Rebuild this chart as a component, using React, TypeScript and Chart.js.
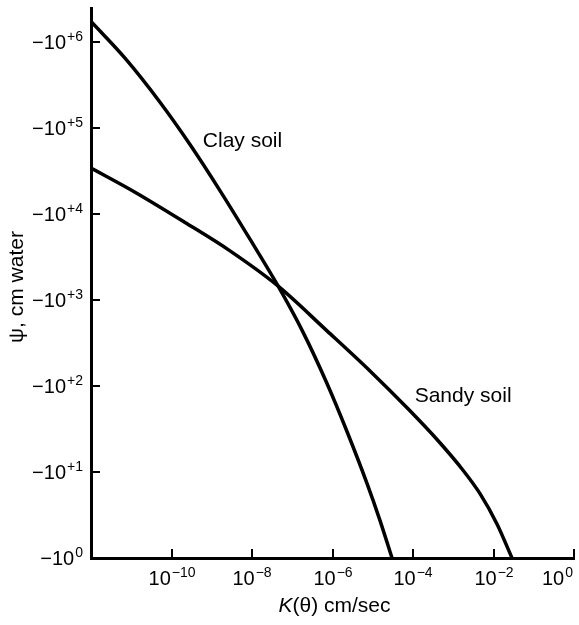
import React, { useEffect, useRef } from 'react';
import { Chart, registerables } from 'chart.js';

Chart.register(...registerables);

// Clay soil curve: hydraulic conductivity K (cm/sec) vs |psi| (cm water)
const clayK = [1e-12, 7.0e-12, 5.18e-11, 2.88e-10, 1.6e-9, 8.91e-9, 4.43e-8, 1.85e-7, 7.3e-7, 2.29e-6, 7.19e-6, 1.51e-5, 3.01e-5];
const clayPsi = [1.74e6, 6.51e5, 2.0e5, 6.45e4, 1.88e4, 5.11e3, 1.46e3, 424, 107, 29.6, 7.38, 2.74, 1];

// Sandy soil curve
const sandyK = [1e-12, 1.24e-11, 2.16e-10, 2.84e-9, 4.18e-8, 7.3e-7, 8.55e-6, 7.52e-5, 3.95e-4, 1.75e-3, 4.62e-3, 1.22e-2, 2.88e-2];
const sandyPsi = [3.44e4, 1.8e4, 8.01e3, 3.74e3, 1.49e3, 439, 150, 54.4, 23.9, 10.5, 5.6, 2.49, 1];

// Axis ticks
const xTickValues = [1e-10, 1e-8, 1e-6, 1e-4, 1e-2, 1e0];
const xTickBase = ['10', '10', '10', '10', '10', '10'];
const xTickSup = ['\u221210', '\u22128', '\u22126', '\u22124', '\u22122', '0'];
const yTickValues = [1e0, 1e1, 1e2, 1e3, 1e4, 1e5, 1e6];
const yTickBase = ['\u221210', '\u221210', '\u221210', '\u221210', '\u221210', '\u221210', '\u221210'];
const yTickSup = ['0', '+1', '+2', '+3', '+4', '+5', '+6'];

// Curve labels
const annotationTexts = ['Clay soil', 'Sandy soil'];
const annotationK = [6.0e-10, 1.1e-4];
const annotationPsi = [6.0e4, 66];

const xTitleItalic = 'K';
const xTitleRest = '(\u03b8) cm/sec';
const yTitle = '\u03c8, cm water';

const FONT = '"Liberation Sans", Arial, Helvetica, sans-serif';

function drawSup(ctx: CanvasRenderingContext2D, base: string, sup: string, x: number, y: number, align: 'center' | 'right', maxRight: number) {
  ctx.font = `20px ${FONT}`;
  const wb = ctx.measureText(base).width;
  ctx.font = `14px ${FONT}`;
  const ws = ctx.measureText(sup).width;
  const total = wb + ws + 1;
  let start = align === 'center' ? x - total / 2 : x - total;
  if (start + total > maxRight) start = maxRight - total;
  ctx.textAlign = 'left';
  ctx.textBaseline = 'alphabetic';
  ctx.font = `20px ${FONT}`;
  ctx.fillText(base, start, y);
  ctx.font = `14px ${FONT}`;
  ctx.fillText(sup, start + wb + 1, y - 8);
}

const decorPlugin = {
  id: 'decor',
  afterDraw(chart: any) {
    const ctx: CanvasRenderingContext2D = chart.ctx;
    const xs = chart.scales.x;
    const ys = chart.scales.y;
    const area = chart.chartArea;
    ctx.save();
    ctx.fillStyle = '#000';
    ctx.strokeStyle = '#000';
    ctx.lineWidth = 2;
    // x ticks + labels
    xTickValues.forEach((v, i) => {
      const px = Math.round(xs.getPixelForValue(v));
      ctx.beginPath();
      ctx.moveTo(px, area.bottom);
      ctx.lineTo(px, area.bottom - 9);
      ctx.stroke();
      drawSup(ctx, xTickBase[i], xTickSup[i], px, area.bottom + 27, 'center', chart.width - 6);
    });
    // y ticks + labels
    yTickValues.forEach((v, i) => {
      const py = Math.round(ys.getPixelForValue(v));
      if (i > 0) {
        ctx.beginPath();
        ctx.moveTo(area.left, py);
        ctx.lineTo(area.left + 9, py);
        ctx.stroke();
      }
      drawSup(ctx, yTickBase[i], yTickSup[i], area.left - 8, py + 7, 'right', 10000);
    });
    // annotations
    ctx.font = `21px ${FONT}`;
    ctx.textAlign = 'left';
    ctx.textBaseline = 'alphabetic';
    annotationTexts.forEach((t, i) => {
      ctx.fillText(t, xs.getPixelForValue(annotationK[i]), ys.getPixelForValue(annotationPsi[i]));
    });
    // x title
    ctx.font = `italic 21px ${FONT}`;
    const wi = ctx.measureText(xTitleItalic).width;
    ctx.font = `21px ${FONT}`;
    const wr = ctx.measureText(xTitleRest).width;
    const cx = (area.left + area.right) / 2 + 2;
    const sx = cx - (wi + wr) / 2;
    ctx.font = `italic 21px ${FONT}`;
    ctx.fillText(xTitleItalic, sx, area.bottom + 54);
    ctx.font = `21px ${FONT}`;
    ctx.fillText(xTitleRest, sx + wi, area.bottom + 54);
    // y title
    ctx.translate(23, (area.top + area.bottom) / 2 + 4);
    ctx.rotate(-Math.PI / 2);
    ctx.textAlign = 'center';
    ctx.fillText(yTitle, 0, 0);
    ctx.restore();
  },
};

export default function App() {
  const ref = useRef<HTMLCanvasElement>(null);
  useEffect(() => {
    if (!ref.current) return;
    const chart = new Chart(ref.current, {
      type: 'scatter',
      data: {
        datasets: [
          {
            label: 'Clay soil',
            data: clayK.map((k, i) => ({ x: k, y: clayPsi[i] })),
            showLine: true,
            borderColor: '#000',
            borderWidth: 3.5,
            pointRadius: 0,
            cubicInterpolationMode: 'monotone',
          },
          {
            label: 'Sandy soil',
            data: sandyK.map((k, i) => ({ x: k, y: sandyPsi[i] })),
            showLine: true,
            borderColor: '#000',
            borderWidth: 3.5,
            pointRadius: 0,
            cubicInterpolationMode: 'monotone',
          },
        ],
      },
      options: {
        responsive: false,
        animation: false,
        layout: { padding: { top: 8, right: 5, left: 0, bottom: 0 } },
        plugins: { legend: { display: false }, tooltip: { enabled: false } },
        scales: {
          x: {
            type: 'logarithmic',
            min: 1e-12,
            max: 1,
            grid: { display: false },
            border: { display: true, color: '#000', width: 3 },
            ticks: { display: false },
            afterFit: (s: any) => { s.height = 67; },
          },
          y: {
            type: 'logarithmic',
            min: 1,
            max: 2.5e6,
            grid: { display: false },
            border: { display: true, color: '#000', width: 3 },
            ticks: { display: false },
            afterFit: (s: any) => { s.width = 91; },
          },
        },
      } as any,
      plugins: [decorPlugin],
    });
    return () => chart.destroy();
  }, []);
  return (
    <div style={{ position: 'fixed', left: 0, top: 0, width: 579, height: 625, background: '#fff' }}>
      <canvas ref={ref} width={579} height={625} />
    </div>
  );
}
